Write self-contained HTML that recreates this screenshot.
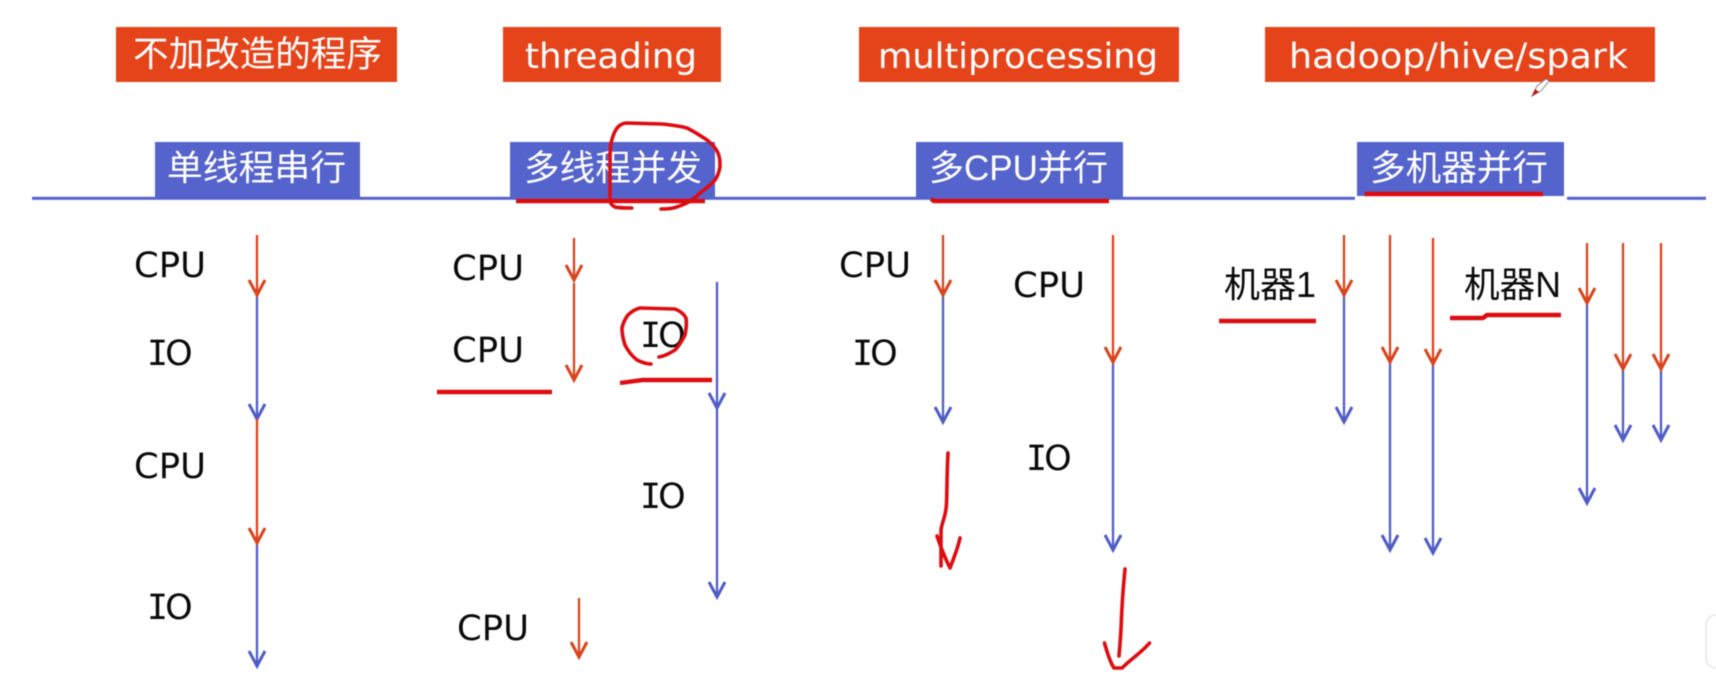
<!DOCTYPE html>
<html lang="zh">
<head>
<meta charset="utf-8">
<title>CPU IO 并发模型</title>
<style>
html,body{margin:0;padding:0;background:#fff;width:1716px;height:682px;overflow:hidden}
svg{display:block;filter:blur(0.4px)}
.t{font-family:"DejaVu Sans","Liberation Sans","Noto Sans CJK SC",sans-serif;font-size:35px;fill:#fff}
.c{font-family:"Liberation Sans","Noto Sans CJK SC",sans-serif;font-size:35.5px;fill:#fff}
.l{font-family:"DejaVu Sans","Liberation Sans",sans-serif;font-size:35px;fill:#0a0a0a}
.m{font-family:"Liberation Sans","Noto Sans CJK SC",sans-serif;font-size:36px;fill:#0a0a0a}
.i{font-family:"DejaVu Sans Mono","Liberation Mono",monospace}
.r{stroke:#d9441c;stroke-width:2.3;fill:none;marker-end:url(#hr)}
.b{stroke:#4f5dc6;stroke-width:2.3;fill:none;marker-end:url(#hb)}
.h{stroke:#dd0c10;stroke-width:3.6;fill:none;stroke-linecap:round;stroke-linejoin:round}
.u{stroke:#dd0c10;stroke-width:4.4;fill:none}
</style>
</head>
<body>
<svg width="1716" height="682" viewBox="0 0 1716 682" xmlns="http://www.w3.org/2000/svg">
<defs>
<marker id="hr" markerUnits="userSpaceOnUse" markerWidth="24" markerHeight="24" refX="18" refY="12" orient="auto" overflow="visible"><path d="M3,4 L18,12 L3,20" fill="none" stroke="#d9441c" stroke-width="3"/></marker>
<marker id="hb" markerUnits="userSpaceOnUse" markerWidth="24" markerHeight="24" refX="18" refY="12" orient="auto" overflow="visible"><path d="M3,4 L18,12 L3,20" fill="none" stroke="#4f5dc6" stroke-width="3"/></marker>
</defs>
<rect width="1716" height="682" fill="#fff"/>

<!-- title boxes -->
<rect x="116" y="27" width="281" height="55" fill="#e5431a"/>
<rect x="503" y="27" width="218" height="55" fill="#e5431a"/>
<rect x="859" y="27" width="320" height="55" fill="#e5431a"/>
<rect x="1265" y="27" width="390" height="55" fill="#e5431a"/>
<text class="c" x="133" y="66" textLength="249" lengthAdjust="spacingAndGlyphs">不加改造的程序</text>
<text class="t" x="525" y="68" textLength="172" lengthAdjust="spacingAndGlyphs">threading</text>
<text class="t" x="878" y="68" textLength="280" lengthAdjust="spacingAndGlyphs">multiprocessing</text>
<text class="t" x="1289" y="68" textLength="339" lengthAdjust="spacingAndGlyphs">hadoop/hive/spark</text>

<!-- horizontal rule -->
<rect x="32" y="196.8" width="1323" height="3" fill="#5563cc"/>
<rect x="1567" y="196.8" width="139" height="3" fill="#5563cc"/>

<!-- blue boxes -->
<rect x="155" y="142" width="205" height="56" fill="#5563cc"/>
<rect x="510" y="142" width="205" height="56" fill="#5563cc"/>
<rect x="916" y="142" width="207" height="56" fill="#5563cc"/>
<rect x="1357" y="142" width="207" height="54" fill="#5563cc"/>
<text class="c" x="167" y="180" textLength="179" lengthAdjust="spacingAndGlyphs">单线程串行</text>
<text class="c" x="524" y="180" textLength="178" lengthAdjust="spacingAndGlyphs">多线程并发</text>
<text class="c" x="929" y="180" textLength="179" lengthAdjust="spacingAndGlyphs">多CPU并行</text>
<text class="c" x="1370" y="180" textLength="178" lengthAdjust="spacingAndGlyphs">多机器并行</text>

<!-- column 1 -->
<text class="l" x="134" y="277" textLength="72" lengthAdjust="spacingAndGlyphs">CPU</text>
<text class="l" x="147" y="365"><tspan class="i">I</tspan><tspan dx="-3">O</tspan></text>
<text class="l" x="134" y="478" textLength="72" lengthAdjust="spacingAndGlyphs">CPU</text>
<text class="l" x="147" y="619"><tspan class="i">I</tspan><tspan dx="-3">O</tspan></text>
<line class="b" x1="257" y1="295" x2="257" y2="419"/>
<line class="b" x1="257" y1="543" x2="257" y2="666"/>
<line class="r" x1="257" y1="235" x2="257" y2="295"/>
<line class="r" x1="257" y1="419" x2="257" y2="543"/>

<!-- column 2 -->
<text class="l" x="452" y="280" textLength="72" lengthAdjust="spacingAndGlyphs">CPU</text>
<text class="l" x="452" y="362" textLength="72" lengthAdjust="spacingAndGlyphs">CPU</text>
<text class="l" x="457" y="640" textLength="72" lengthAdjust="spacingAndGlyphs">CPU</text>
<text class="l" x="640" y="347"><tspan class="i">I</tspan><tspan dx="-3">O</tspan></text>
<text class="l" x="640" y="508"><tspan class="i">I</tspan><tspan dx="-3">O</tspan></text>
<line class="r" x1="574" y1="238" x2="574" y2="280"/>
<line class="r" x1="574" y1="283" x2="574" y2="380"/>
<line class="r" x1="579" y1="598" x2="579" y2="657"/>
<line class="b" x1="717" y1="408" x2="717" y2="597"/>
<line class="b" x1="717" y1="282" x2="717" y2="408"/>

<!-- column 3 -->
<text class="l" x="839" y="277" textLength="72" lengthAdjust="spacingAndGlyphs">CPU</text>
<text class="l" x="852" y="365"><tspan class="i">I</tspan><tspan dx="-3">O</tspan></text>
<text class="l" x="1013" y="297" textLength="72" lengthAdjust="spacingAndGlyphs">CPU</text>
<text class="l" x="1026" y="470"><tspan class="i">I</tspan><tspan dx="-3">O</tspan></text>
<line class="b" x1="943" y1="295" x2="943" y2="422"/>
<line class="r" x1="943" y1="235" x2="943" y2="295"/>
<line class="b" x1="1113" y1="362" x2="1113" y2="550"/>
<line class="r" x1="1113" y1="235" x2="1113" y2="362"/>

<!-- column 4 -->
<text class="m" x="1224" y="297" textLength="92" lengthAdjust="spacingAndGlyphs">机器1</text>
<text class="m" x="1464" y="297" textLength="97" lengthAdjust="spacingAndGlyphs">机器N</text>
<line class="b" x1="1344" y1="295" x2="1344" y2="422"/>
<line class="r" x1="1344" y1="235" x2="1344" y2="295"/>
<line class="b" x1="1390" y1="362" x2="1390" y2="550"/>
<line class="r" x1="1390" y1="235" x2="1390" y2="362"/>
<line class="b" x1="1433" y1="364" x2="1433" y2="553"/>
<line class="r" x1="1433" y1="238" x2="1433" y2="364"/>
<line class="b" x1="1587" y1="303" x2="1587" y2="503"/>
<line class="r" x1="1587" y1="243" x2="1587" y2="303"/>
<line class="b" x1="1623" y1="369" x2="1623" y2="440"/>
<line class="r" x1="1623" y1="243" x2="1623" y2="369"/>
<line class="b" x1="1661" y1="369" x2="1661" y2="440"/>
<line class="r" x1="1661" y1="243" x2="1661" y2="369"/>

<!-- red annotations -->
<path class="u" d="M516,201 H705"/>
<path class="h" d="M631.7,208 C625,208 618,208 615,207 C611,205 610,203 610,200 L610,160 C610,152 610,148 611,143 C613,135 615,130 618,127 C621,124 624,123 627,123 L662,124 C672,125 680,126 687,128 C695,132 701,136 707,140 C712,144 716,148 718,153 C720,158 720,162 720,167 C719,172 718,176 715,180 C711,185 705,189 700,193 C696,197 692,200 687,203 C682,205 678,207 673,208 C669,209 665,209 661,209"/>
<path class="u" d="M931,199 L934,201 H1109"/>
<path class="u" d="M1364.5,194 H1543"/>
<path class="u" d="M1219,321 H1316"/>
<path class="u" d="M1450,318 H1483 L1487,315 H1561"/>
<path class="u" d="M437,392 H552"/>
<path class="u" d="M620,383 L643,380 H712"/>
<path class="h" d="M651,364 C646,364 641,362 637,360 C632,356 628,351 625,345 C623,339 622,333 622,328 C623,323 625,319 628,315 C632,311 636,309 640,308 L675,309 C680,311 684,314 686,318 C687,324 686,330 685,335 C682,341 679,346 675,350 C670,353 665,356 659,357"/>
<path class="h" d="M948,453 C947,470 947,490 946.5,504 C946,516 942,522 941,530 L941,566 M937,536 C941,548 946,560 950,568 C953,560 958,548 960,538"/>
<path class="h" d="M1125,569 C1123,590 1122,605 1121.5,618 C1121,632 1120,645 1119,656 M1104.5,643 C1107,652 1110,662 1114,668 L1122,668 C1130,660 1142,652 1149.5,643"/>

<!-- pen cursor -->
<path d="M1532,96 L1537,86 L1546,79 L1549,81 L1541,91 Z" fill="#fff" stroke="#8a8a8a" stroke-width="1"/>
<path d="M1532,96 L1535,89 L1539,92 Z" fill="#c8141c"/>

<!-- corner widget -->
<rect x="1706" y="615" width="40" height="53" rx="10" ry="10" fill="#fff" stroke="#e6e6e6" stroke-width="1.5"/>
</svg>
</body>
</html>
